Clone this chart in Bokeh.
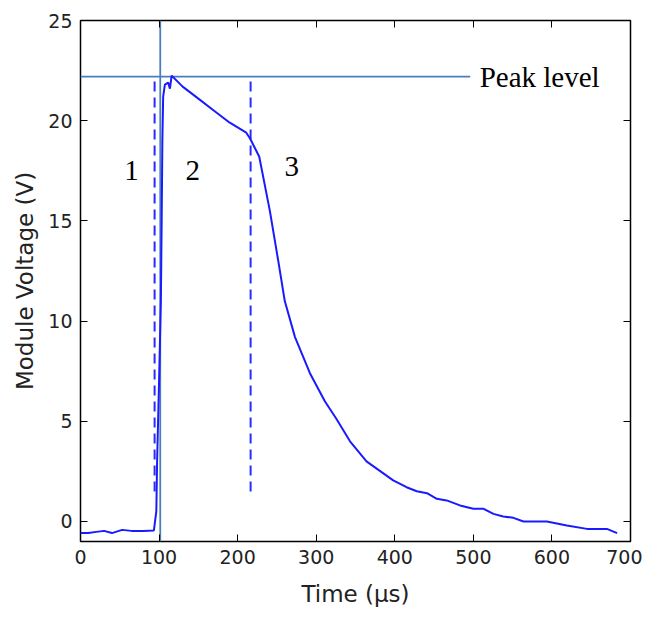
from bokeh.plotting import figure
from bokeh.models import Range1d, LinearAxis, FixedTicker
from bokeh.core.properties import value
from bokeh.embed import file_html
from bokeh.resources import INLINE

# Voltage trace (time in microseconds, voltage in V)
time_us = [0, 10, 20, 30, 40, 53, 65, 80, 93.4, 96.5, 97.5, 100, 102.3, 103.3, 104.2, 105.2,
           107.4, 111.6, 113.8, 116,
           130, 150, 170, 190, 211, 216, 227.5, 241, 251.7, 260, 273, 292, 311, 326,
           343, 364, 398, 415, 428, 441, 453.5, 466, 483, 500, 513, 525.6, 538, 551,
           563.8, 593.6, 619, 644.5, 670, 683]
voltage = [-0.58, -0.58, -0.52, -0.47, -0.58, -0.42, -0.47, -0.47, -0.45, 0.5, 3.0, 7.0, 11.0,
           15.0, 19.0, 21.2, 21.8, 21.9, 21.6, 22.25,
           21.7, 21.1, 20.5, 19.9, 19.4, 19.1, 18.2, 15.5, 13.0, 11.0,
           9.2, 7.4, 6.0, 5.1, 4.0, 3.0, 2.05, 1.71, 1.51, 1.41, 1.13, 1.05, 0.8, 0.63, 0.63,
           0.38, 0.25, 0.18, 0.0, 0.0, -0.2, -0.37, -0.37, -0.58]

peak_level = 22.2
peak_line_end = 496
peak_label = "Peak level"
marker_time = 101.5
phase_bounds = [94.3, 216.5]
phase_bound_bottom = 1.5
phase_labels = ["1", "2", "3"]
phase_label_x = [65, 143, 269]
phase_label_y = [17.5, 17.5, 17.7]

x_ticks = [0, 100, 200, 300, 400, 500, 600, 700]
y_ticks = [0, 5, 10, 15, 20, 25]

p = figure(width=642, height=615, output_backend="svg", toolbar_location=None,
           x_range=Range1d(0, 700), y_range=Range1d(-1, 25),
           min_border_left=80, min_border_right=12, min_border_top=20, min_border_bottom=74)
p.background_fill_color = "white"
p.border_fill_color = "white"
p.outline_line_color = "black"
p.outline_line_width = 1.5
p.xgrid.visible = False
p.ygrid.visible = False

tick_font = "DejaVu Sans"
for ax in p.xaxis + p.yaxis:
    ax.major_label_text_font = tick_font
    ax.major_label_text_font_size = "19px"
    ax.major_label_text_color = "#222222"
    ax.axis_label_text_font = tick_font
    ax.axis_label_text_font_size = "23px"
    ax.axis_label_text_font_style = "normal"
    ax.axis_label_text_color = "#222222"
    ax.major_tick_in = 7
    ax.major_tick_out = 0
    ax.minor_tick_in = 0
    ax.minor_tick_out = 0
    ax.axis_line_color = None
    ax.major_tick_line_color = "black"
    ax.major_label_standoff = 8

p.xaxis.ticker = FixedTicker(ticks=x_ticks)
p.yaxis.ticker = FixedTicker(ticks=y_ticks)
p.xaxis.axis_label = "Time (μs)"
p.yaxis.axis_label = "Module Voltage (V)"
p.xaxis.axis_label_standoff = 14
p.yaxis.axis_label_standoff = 7

# mirror ticks on top and right
top = LinearAxis(ticker=FixedTicker(ticks=x_ticks), major_label_text_font_size="1px",
                 major_label_text_alpha=0, major_label_standoff=0,
                 major_tick_in=7, major_tick_out=0, minor_tick_in=0, minor_tick_out=0,
                 axis_line_color=None)
right = LinearAxis(ticker=FixedTicker(ticks=y_ticks), major_label_text_font_size="1px",
                   major_label_text_alpha=0, major_label_standoff=0,
                   major_tick_in=7, major_tick_out=0, minor_tick_in=0, minor_tick_out=0,
                   axis_line_color=None)
p.add_layout(top, "above")
p.add_layout(right, "right")

ref_color = "#4a7ebb"
# peak level and marker lines
p.line([0, peak_line_end], [peak_level, peak_level], line_color=ref_color, line_width=1.8)
p.line([marker_time, marker_time], [-1, 25], line_color=ref_color, line_width=1.8)

# phase boundaries
for b in phase_bounds:
    p.line([b, b], [phase_bound_bottom, peak_level], line_color="#2a2aff", line_width=2,
           line_dash="10 6")

# trace
p.line(time_us, voltage, line_color="#1a1aff", line_width=2)

# labels
p.text(x=phase_label_x, y=phase_label_y, text=phase_labels, text_font=value("Liberation Serif"),
       text_font_size="29px", text_align="center", text_baseline="middle", text_color="black")
p.text(x=[peak_line_end + 12], y=[peak_level], text=[peak_label],
       text_font=value("Liberation Serif"), text_font_size="29px", text_align="left",
       text_baseline="middle", text_color="black")

open("out.html", "w").write(file_html(p, INLINE))
